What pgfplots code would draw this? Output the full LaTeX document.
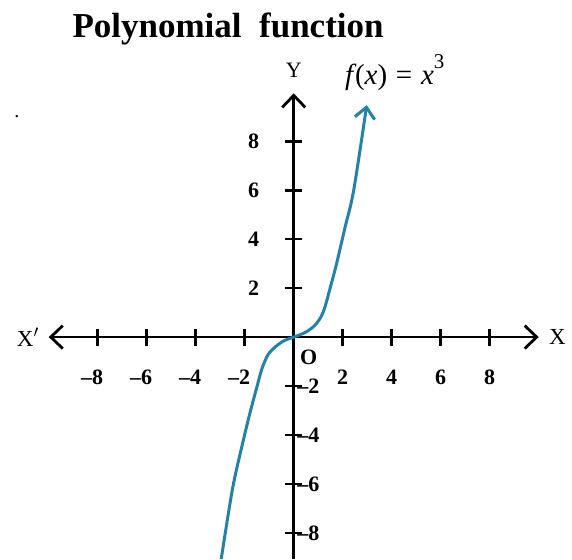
\documentclass[border=0pt]{standalone}
\usepackage{fontspec}
\setmainfont{Liberation Serif}
\usepackage{pgfplots}
\pgfplotsset{compat=1.18}
\usetikzlibrary{arrows.meta}
\definecolor{curvecol}{RGB}{35,130,165}
\newcommand{\tl}{\fontsize{22bp}{22bp}\selectfont\bfseries}
\begin{document}
\begin{tikzpicture}
\begin{axis}[
  x=24.5bp, y=24.5bp,
  xmin=-10, xmax=10, ymin=-9.06, ymax=9.95,
  clip=false,
  axis lines=middle,
  axis line style={line width=2.8bp, black},
  x axis line style={{Straight Barb[length=12bp,width=23bp]}-{Straight Barb[length=12bp,width=23bp]}},
  y axis line style={-{Straight Barb[length=12bp,width=23bp]}},
  xtick={-8,-6,-4,-2,2,4,6,8},
  xticklabels={\llap{\textendash}8,\llap{\textendash}6,\llap{\textendash}4,\llap{\textendash}2,2,4,6,8},
  ytick={2,4,6,8},
  yticklabels={2,4,6,8},
  extra y ticks={-2,-4,-6,-8},
  extra y tick labels={\textendash2,\textendash4,\textendash6,\textendash8},
  major tick length=17bp,
  tick style={line width=2.8bp, black},
  tick align=center,
  ticklabel style={font=\tl, inner sep=0pt},
  xticklabel style={anchor=north, yshift=-24bp},
  yticklabel style={anchor=east, xshift=-26bp},
  extra y tick style={yticklabel style={anchor=west, xshift=38bp}},
]
\addplot[curvecol, line width=3bp, smooth, tension=0.5,
  -{Straight Barb[length=11bp,width=20bp]}] coordinates {
  (-2.96,-9.06) (-2.5,-6.2) (-2.12,-4.48) (-1.8,-3.15) (-1.52,-2.1)
  (-1.3,-1.3) (-1.05,-0.72) (-0.75,-0.4) (-0.4,-0.15) (0,0)
  (0.45,0.18) (0.8,0.42) (1.05,0.72) (1.25,1.15) (1.5,2.05) (1.75,3.0)
  (2.1,4.5) (2.45,6.0) (2.98,9.47)
};
\coordinate (bl) at (axis cs:-11.99,-9.06);
\coordinate (tr) at (axis cs:11.36,13.76);
\node[anchor=east, inner sep=0pt, font=\fontsize{23bp}{23bp}\selectfont] at (axis cs:-10.4,0) {X$'$};
\node[anchor=west, inner sep=0pt, font=\fontsize{23bp}{23bp}\selectfont] at (axis cs:10.42,0) {X};
\node[anchor=base, inner sep=0pt, font=\fontsize{22bp}{22bp}\selectfont] at (axis cs:0,10.61) {Y};
\node[anchor=north west, inner sep=0pt, font=\tl] at (axis cs:0.25,-0.5) {O};
\node[anchor=base west, inner sep=0pt, font=\fontsize{29bp}{29bp}\selectfont] at (axis cs:2.09,10.3) {\textit{f}\kern-0.05em(\textit{x})\hspace{0.3em}=\hspace{0.3em}\textit{x}\raisebox{0.55em}{\fontsize{21bp}{21bp}\selectfont 3}};
\node[anchor=base, inner sep=0pt, font=\fontsize{35bp}{35bp}\selectfont\bfseries] at (axis cs:-2.68,12.24) {Polynomial\ \ function};
\node[inner sep=0pt, font=\fontsize{20bp}{20bp}\selectfont] at (axis cs:-11.3,9.02) {.};
\end{axis}
\pgfresetboundingbox
\path[use as bounding box] (bl) rectangle (tr);
\end{tikzpicture}
\end{document}
